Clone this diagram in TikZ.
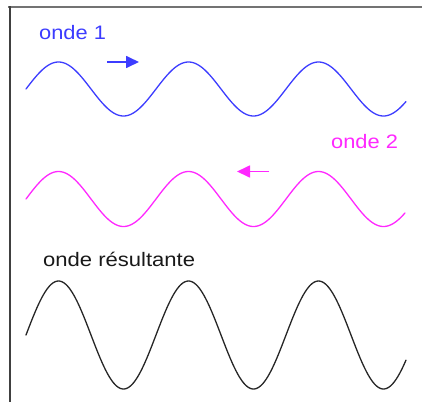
\documentclass[tikz,border=0pt]{standalone}
\usepackage{fontspec}
\setmainfont{Liberation Sans}
\usetikzlibrary{arrows.meta}
\definecolor{wblue}{RGB}{60,60,255}
\definecolor{wmag}{RGB}{255,40,255}
\tikzset{
  wave/.style={line width=1.3pt, line join=round, line cap=round},
  lbl/.style={inner sep=0pt, anchor=base west},
  lblfont/.style={font=\fontsize{19.5}{22}\selectfont},
  dirarrow/.style={line width=1.7pt, -{Triangle[length=13pt,width=12pt]}},
  framel/.style={line width=2pt}
}
\begin{document}
\begin{tikzpicture}[x=1pt,y=-1pt]
\useasboundingbox (0,0) rectangle (422,402);
% frame
\draw[framel, black!55] (8,7) -- (422,7);
\draw[framel, black!75] (9.5,6) -- (9.5,402);
% waves
\draw[wave, wblue] plot[domain=26:406, samples=240, smooth] (\x, {89 - 27*sin(2.76923*(\x-26))});
\draw[wave, wmag] plot[domain=26:405, samples=240, smooth] (\x, {199 - 27.5*sin(2.76923*(\x-26))});
\draw[wave, black!85] plot[domain=26:406, samples=240, smooth] (\x, {335 - 54*sin(2.76923*(\x-26))});
% labels
\node[lbl, lblfont, text=wblue] (l1) at (39,39.7) {\scalebox{1.12}[1]{onde 1}};
\node[lbl, lblfont, text=wmag] (l2) at (331,148.3) {\scalebox{1.12}[1]{onde 2}};
\node[lbl, lblfont, text=black!90] (l3) at (43,266.7) {\scalebox{1.13}[1]{onde résultante}};
% arrows
\coordinate (a1s) at (107,62);
\coordinate (a1e) at (139,62);
\coordinate (a2s) at (269,171.5);
\coordinate (a2e) at (237,171.5);
\draw[dirarrow, wblue] (a1s) -- (a1e);
\draw[dirarrow, wmag] (a2s) -- (a2e);
\end{tikzpicture}
\end{document}
